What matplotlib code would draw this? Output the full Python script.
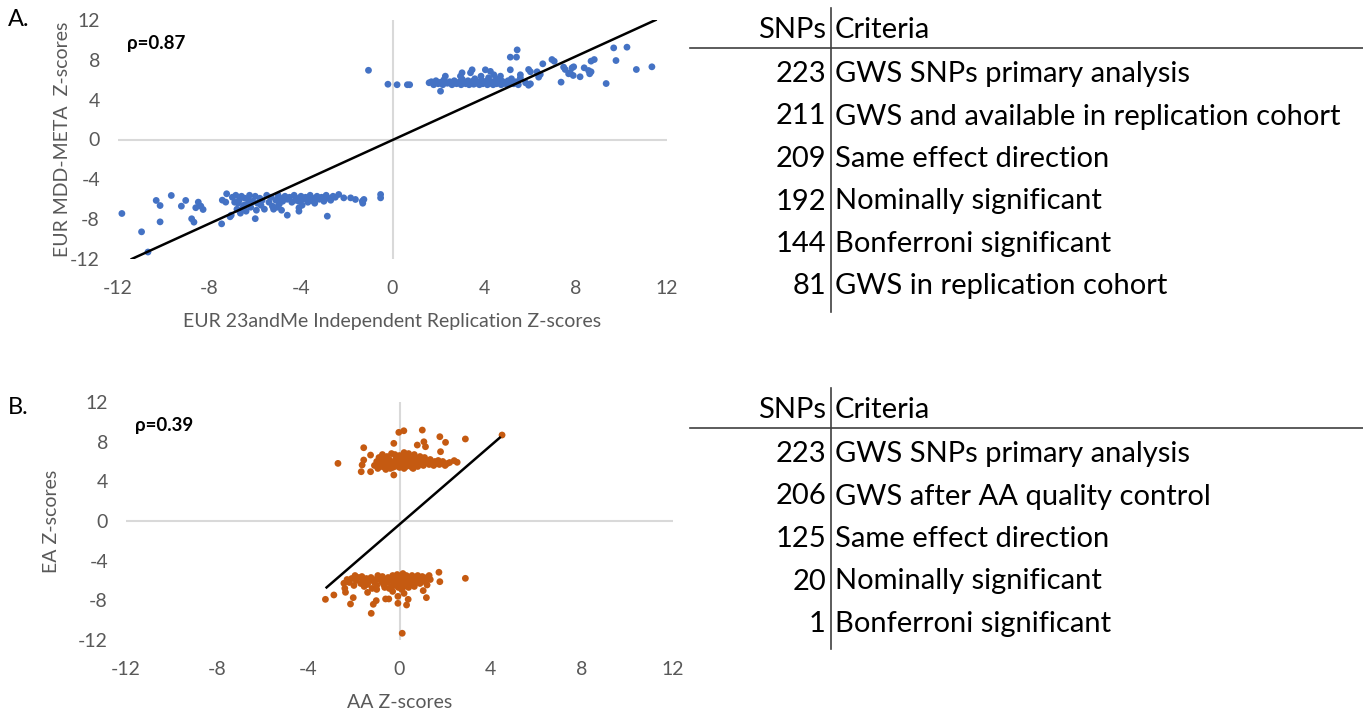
import numpy as np
import matplotlib
matplotlib.use("Agg")
import matplotlib.pyplot as plt

plt.rcParams['font.family'] = ['Lato', 'DejaVu Sans']
plt.rcParams['axes.unicode_minus'] = False

# ---- panel A data (EUR 23andMe vs EUR MDD-META) ----
a_upper_dense = [(1.6,5.7),(1.7,5.8),(1.8,5.5),(1.9,5.9),(2.0,5.6),(2.1,5.75),(2.2,5.5),(2.25,6.0),
    (2.4,5.65),(2.5,5.8),(2.6,5.5),(2.7,5.9),(2.8,5.6),(2.9,5.75),(3.0,5.5),(3.05,6.05),(3.1,5.8),
    (3.2,5.6),(3.3,5.9),(3.35,5.5),(3.4,5.7),(3.5,5.85),(3.55,5.55),(3.6,6.1),(3.7,5.65),(3.75,5.8),
    (3.8,5.5),(3.9,5.95),(3.95,5.6),(4.0,5.75),(4.1,5.85),(4.15,5.5),(4.2,6.2),(4.3,5.65),(4.35,5.8),
    (4.4,5.5),(4.5,5.9),(4.55,5.6),(4.6,6.0),(4.7,5.7),(4.75,5.5),(4.8,5.85),(4.9,5.65),(5.0,5.55),
    (5.05,5.9),(5.1,5.7),(5.2,6.1),(5.3,5.6),(5.4,5.8),(5.5,5.5)]
a_upper_sparse = [(-1.05,6.95),(-0.2,5.55),(0.2,5.5),(0.65,5.5),(0.75,5.5),(2.1,4.85),(2.31,6.36),
    (2.97,6.36),(3.04,6.7),(3.48,7.0),(3.41,6.7),(3.87,6.36),(4.06,7.0),(4.28,6.84),(4.43,6.5),
    (4.72,6.36),(5.15,7.0),(4.57,6.03),(5.15,8.27),(5.42,8.27),(5.45,9.0),(5.59,6.5),(5.59,6.19),
    (5.82,5.69),(5.95,5.45),(6.03,5.59),(5.95,7.03),(6.03,6.8),(6.32,6.8),(6.39,6.26),(6.46,6.53),
    (6.57,7.6),(6.97,8.03),(7.07,7.86),(7.37,5.76),(7.48,7.27),(7.55,7.03),(7.7,6.6),(7.77,6.7),
    (7.85,7.2),(7.92,7.3),(7.9,6.43),(8.2,6.3),(8.38,7.2),(8.57,6.93),(8.68,6.8),(8.62,6.6),
    (8.68,7.87),(8.82,8.03),(9.34,5.62),(9.67,9.2),(10.25,9.27),(9.77,7.93),(10.66,7.03),(11.34,7.3)]
a_lower_dense = [(-7.0,-5.8),(-6.9,-6.3),(-6.85,-5.6),(-6.8,-7.0),(-6.7,-6.1),(-6.65,-7.4),(-6.6,-5.7),
    (-6.5,-6.6),(-6.45,-5.9),(-6.4,-7.2),(-6.3,-6.0),(-6.25,-5.6),(-6.2,-6.8),(-6.1,-6.2),(-6.0,-5.7),
    (-5.95,-7.1),(-5.9,-6.4),(-5.8,-5.9),(-5.7,-6.1),(-5.6,-7.0),(-5.5,-5.6),(-5.4,-6.3),(-5.3,-5.8),
    (-5.2,-7.0),(-5.1,-6.1),(-5.0,-5.6),(-4.95,-6.5),(-4.9,-5.9),(-4.8,-6.2),(-4.7,-5.7),(-4.6,-6.0),
    (-4.5,-5.8),(-4.4,-6.3),(-4.3,-5.6),(-4.2,-5.9),(-4.1,-6.2),(-4.0,-5.7),(-3.95,-6.6),(-3.9,-6.0),
    (-3.8,-5.8),(-3.7,-6.3),(-3.6,-5.6),(-3.55,-6.1),(-3.5,-5.9),(-3.4,-6.4),(-3.3,-5.7),(-3.2,-6.0),
    (-3.1,-5.8),(-3.0,-6.2),(-2.9,-5.6),(-2.8,-5.9),(-2.7,-6.1),(-2.6,-5.7),(-2.5,-5.8),(-6.55,-6.9),
    (-6.35,-6.5),(-5.75,-6.6),(-5.25,-6.7),(-4.85,-7.1),(-3.75,-6.0),(-3.45,-6.2),(-3.15,-5.9),
    (-6.75,-6.4),(-5.05,-6.8),(-4.25,-6.1)]
a_lower_sparse = [(-11.83,-7.43),(-10.97,-9.27),(-10.69,-11.3),(-10.33,-6.12),(-10.16,-6.63),
    (-10.16,-8.27),(-9.67,-5.62),(-9.23,-6.69),(-9.04,-6.12),(-8.78,-7.96),(-8.68,-8.3),(-8.6,-6.85),
    (-8.49,-6.29),(-8.38,-6.69),(-8.28,-7.03),(-7.47,-8.47),(-7.25,-5.45),(-7.44,-6.09),(-7.29,-6.29),
    (-7.1,-7.76),(-7.05,-7.6),(-6.0,-7.95),(-4.6,-7.6),(-4.09,-7.2),(-4.09,-6.86),(-2.85,-7.7),
    (-2.35,-5.52),(-2.13,-5.86),(-1.83,-5.86),(-1.62,-6.02),(-1.32,-6.19),(-1.25,-6.02),(-1.3,-6.4),
    (-0.52,-5.52),(-0.52,-5.86)]
a_trend_x = [-11.4, 11.5]
a_trend_y = [-12.0, 12.0]
a_rho = "ρ=0.87"

# ---- panel B data (AA vs EA) ----
b_upper_sparse = [(-2.7,5.81),(4.5,8.67),(2.89,8.27),(1.77,8.5),(2.02,7.93),(1.0,9.17),(-0.03,8.94),
    (0.19,9.1),(-0.25,7.83),(-1.57,7.39),(0.78,7.66),(1.07,7.99),(1.14,7.49),(1.8,6.99),(2.53,5.92),
    (-1.27,6.65),(-1.64,5.65),(-1.57,6.15),(-1.68,4.97),(-1.27,4.97),(-0.25,4.64),(2.4,6.09),(2.2,5.9)]
b_upper_dense = [(-1.1,5.6),(-1.0,6.0),(-0.95,5.3),(-0.9,6.4),(-0.85,5.8),(-0.8,5.5),(-0.75,6.7),
    (-0.7,6.1),(-0.65,5.4),(-0.6,5.9),(-0.55,6.5),(-0.5,5.6),(-0.45,6.2),(-0.4,5.3),(-0.35,6.8),
    (-0.3,5.8),(-0.25,6.0),(-0.2,5.5),(-0.15,6.4),(-0.1,5.7),(-0.05,6.1),(0.0,5.4),(0.0,6.6),(0.05,5.9),
    (0.1,6.3),(0.1,5.6),(0.15,6.0),(0.2,5.3),(0.2,6.9),(0.25,5.8),(0.3,6.2),(0.3,5.5),(0.35,6.5),
    (0.4,5.9),(0.45,5.6),(0.5,6.3),(0.55,5.4),(0.6,6.0),(0.65,6.7),(0.7,5.7),(0.75,6.2),(0.8,5.5),
    (0.85,6.0),(0.9,6.5),(0.95,5.8),(1.0,6.1),(1.05,5.6),(1.1,6.4),(1.15,5.9),(1.2,6.0),(1.3,5.7),
    (1.35,6.2),(1.4,5.9),(1.5,5.6),(1.55,6.0),(1.6,5.8),(1.7,6.1),(1.75,5.7),(1.85,5.9),(1.9,6.0),
    (2.0,5.6),(2.1,5.8),(-0.6,5.2),(-0.2,6.7),(0.4,6.8),(0.6,5.3),(-0.8,6.2),(0.15,5.5),(-0.1,6.35),
    (0.35,5.95),(-0.4,5.95),(0.55,5.75),(0.05,6.15),(0.25,6.45),(-0.3,5.4)]
b_lower_sparse = [(-3.25,-7.9),(-2.88,-7.46),(-2.44,-6.28),(-2.4,-6.79),(-2.37,-7.19),(-2.15,-8.37),
    (-2.03,-7.73),(-1.24,-9.31),(-1.15,-8.4),(-1.02,-8.03),(-0.61,-7.86),(-0.47,-7.86),(-0.07,-8.3),
    (0.31,-8.47),(0.12,-11.32),(1.18,-7.73),(1.04,-7.02),(1.21,-6.45),(1.73,-5.17),(1.77,-6.12),
    (2.89,-5.78),(0.38,-7.9),(-0.07,-7.6),(0.2,-7.3),(-0.3,-7.1),(-1.4,-7.2),(-1.0,-6.9)]
b_lower_dense = [(-2.3,-5.9),(-2.2,-6.2),(-2.1,-5.8),(-2.0,-6.5),(-1.9,-6.0),(-1.8,-5.7),(-1.7,-6.3),
    (-1.6,-5.9),(-1.55,-6.6),(-1.5,-6.1),(-1.45,-5.8),(-1.4,-6.4),(-1.3,-6.0),(-1.25,-5.7),(-1.2,-6.8),
    (-1.1,-6.2),(-1.05,-5.9),(-1.0,-6.5),(-0.9,-5.8),(-0.8,-6.1),(-0.75,-5.6),(-0.7,-6.4),(-0.6,-5.9),
    (-0.55,-6.2),(-0.5,-5.7),(-0.4,-6.0),(-0.35,-6.6),(-0.3,-5.5),(-0.25,-6.3),(-0.2,-5.8),(-0.15,-6.1),
    (-0.1,-5.4),(-0.05,-6.7),(0.0,-5.9),(0.0,-6.3),(0.05,-5.6),(0.1,-6.0),(0.1,-6.9),(0.15,-5.3),
    (0.2,-6.2),(0.25,-5.8),(0.3,-6.5),(0.3,-5.5),(0.35,-6.1),(0.4,-5.7),(0.45,-6.3),(0.5,-5.9),
    (0.55,-5.5),(0.6,-6.0),(0.65,-6.6),(0.7,-5.7),(0.75,-6.2),(0.8,-5.5),(0.85,-5.9),(0.9,-6.3),
    (1.0,-5.6),(1.05,-5.9),(1.1,-6.1),(1.2,-5.7),(1.3,-5.5),(1.35,-5.9),(-1.95,-5.5),(-0.95,-5.5),
    (-0.45,-6.8),(0.2,-6.6),(-0.2,-6.5),(0.05,-5.75),(-0.65,-6.7),(0.4,-6.7),(-1.65,-5.6),(0.15,-6.4),
    (-0.1,-6.0)]
b_trend_x = [-3.2, 4.4]
b_trend_y = [-6.7, 8.4]
b_rho = "ρ=0.39"

ticks = [-12, -8, -4, 0, 4, 8, 12]

# ---- tables ----
a_snps = ["223", "211", "209", "192", "144", "81"]
a_criteria = ["GWS SNPs primary analysis", "GWS and available in replication cohort",
              "Same effect direction", "Nominally significant", "Bonferroni significant",
              "GWS in replication cohort"]
b_snps = ["223", "206", "125", "20", "1"]
b_criteria = ["GWS SNPs primary analysis", "GWS after AA quality control",
              "Same effect direction", "Nominally significant", "Bonferroni significant"]

W, H = 1363, 709
fig = plt.figure(figsize=(W / 100, H / 100), dpi=100)

grey = '#595959'
tfs = 21


def scatter_panel(rect, pts, color, tx, ty, rho, xlab, ylab, ylab_x, xlab_y):
    ax = fig.add_axes(rect)
    pts = np.array(pts)
    ax.axhline(0, color='#d9d9d9', lw=1.5, zorder=1)
    ax.axvline(0, color='#d9d9d9', lw=1.5, zorder=1)
    ax.scatter(pts[:, 0], pts[:, 1], s=24, color=color, edgecolors='none', zorder=2)
    ax.plot(tx, ty, color='black', lw=1.8, zorder=3)
    ax.set_xlim(-12, 12)
    ax.set_ylim(-12, 12)
    ax.set_xticks(ticks)
    ax.set_yticks(ticks)
    ax.tick_params(length=0, labelsize=14, labelcolor=grey)
    ax.tick_params(axis='y', pad=13)
    ax.tick_params(axis='x', pad=15)
    for s in ax.spines.values():
        s.set_visible(False)
    ax.patch.set_alpha(0)
    ax.set_xlabel(xlab, fontsize=14, color=grey)
    ax.set_ylabel(ylab, fontsize=14, color=grey)
    ax.yaxis.set_label_coords(ylab_x, 0.5)
    ax.xaxis.set_label_coords(0.5, xlab_y)
    ax.text(-11.6, 9.6, rho, fontsize=13.5, fontweight='bold', va='center', ha='left')
    return ax


def table(top_px, snps, crit):
    hy = top_px
    fig.text(826 / W, 1 - hy / H, "SNPs", fontsize=tfs, ha='right', va='center')
    fig.text(835 / W, 1 - hy / H, "Criteria", fontsize=tfs, ha='left', va='center')
    fig.add_artist(plt.Line2D([690 / W, 1], [1 - (hy + 18) / H] * 2, color='#404040', lw=1.2))
    for i, (n, c) in enumerate(zip(snps, crit)):
        y = hy + 44 + i * 42.5
        fig.text(826 / W, 1 - y / H, n, fontsize=tfs, ha='right', va='center')
        fig.text(835 / W, 1 - y / H, c, fontsize=tfs, ha='left', va='center')
    bottom = hy + 44 + (len(snps) - 1) * 42.5 + 25
    fig.add_artist(plt.Line2D([831 / W] * 2, [1 - (hy - 22) / H, 1 - bottom / H], color='#404040', lw=1.2))


scatter_panel([118 / W, 1 - 259 / H, 549 / W, 239 / H], a_upper_dense + a_upper_sparse + a_lower_dense + a_lower_sparse,
              '#4472C4', a_trend_x, a_trend_y, a_rho,
              "EUR 23andMe Independent Replication Z-scores", "EUR MDD-META  Z-scores", -0.085, -0.225)
scatter_panel([126 / W, 1 - 640 / H, 547 / W, 238 / H], b_upper_dense + b_upper_sparse + b_lower_dense + b_lower_sparse,
              '#C55A11', b_trend_x, b_trend_y, b_rho,
              "AA Z-scores", "EA Z-scores", -0.12, -0.225)

fig.text(8 / W, 1 - 20 / H, "A.", fontsize=17, va='center', ha='left')
fig.text(8 / W, 1 - 407 / H, "B.", fontsize=17, va='center', ha='left')

table(30, a_snps, a_criteria)
table(410, b_snps, b_criteria)

fig.savefig("out.png", dpi=100)
